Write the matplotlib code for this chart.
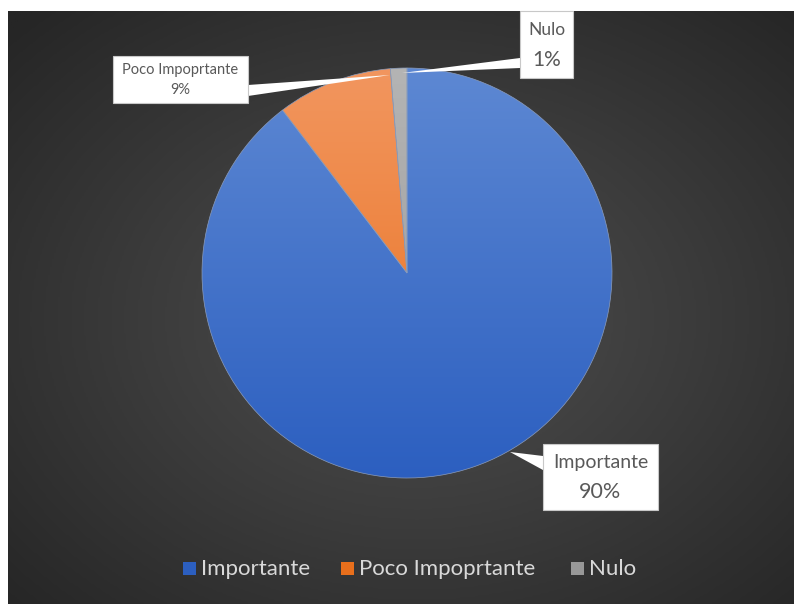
import numpy as np
import matplotlib
matplotlib.use("Agg")
import matplotlib.pyplot as plt
from matplotlib.patches import Rectangle, Polygon
from matplotlib.colors import LinearSegmentedColormap

categories = ["Importante", "Poco Impoprtante", "Nulo"]
values = [69, 7, 1]
pct_labels = ["90%", "9%", "1%"]

FONT = ["Lato", "DejaVu Sans"]
plt.rcParams['font.family'] = FONT

W, H = 794, 604
fig = plt.figure(figsize=(W / 100, H / 100), dpi=100)
fig.patch.set_facecolor("white")

# background with radial gradient
bg = fig.add_axes([8 / W, 0, (W - 8) / W, (H - 11) / H])
bg.set_axis_off()
yy, xx = np.mgrid[0:1:300j, 0:1:400j]
d = np.sqrt(((xx - 0.52) / 0.75) ** 2 + ((yy - 0.52) / 0.75) ** 2)
cmap_bg = LinearSegmentedColormap.from_list("bg", ["#4f4f4f", "#3b3b3b", "#262626"])
bg.imshow(d, cmap=cmap_bg, vmin=0, vmax=0.95, aspect="auto", extent=[0, 1, 0, 1], interpolation="bilinear")
bg.set_xlim(0, 1); bg.set_ylim(0, 1)

# pie
cx, cy, R = 407, 273, 205
ax = fig.add_axes([(cx - R) / W, 1 - (cy + R) / H, 2 * R / W, 2 * R / H])
ax.set_axis_off()
grads = [("#5d88d3", "#2c5fc0"), ("#f2965f", "#e86f1c"), ("#b4b4b4", "#989898")]
wedges, _ = ax.pie(values, startangle=90, counterclock=False, radius=1,
                   colors=[g[1] for g in grads],
                   wedgeprops=dict(edgecolor="#6a7fa6", linewidth=0.6))
ax.set_xlim(-1, 1); ax.set_ylim(-1, 1)
ax.set_aspect("auto")
grad = np.linspace(0, 1, 256).reshape(-1, 1)
for w, (top, bot) in zip(wedges, grads):
    cm = LinearSegmentedColormap.from_list("g", [top, bot])
    im = ax.imshow(grad, cmap=cm, extent=[-1, 1, -1, 1], aspect="auto", zorder=w.get_zorder() + 0.1)
    im.set_clip_path(w)
for w in wedges:
    w.set_zorder(3)
    w.set_facecolor("none")
    w.set_edgecolor("#8a9cbc")
    w.set_linewidth(0.5)

# overlay in pixel coordinates for callouts and legend
ov = fig.add_axes([0, 0, 1, 1])
ov.set_axis_off()
ov.set_xlim(0, W); ov.set_ylim(H, 0)

def callout(box, tip, base, lines, sizes):
    x0, y0, x1, y1 = box
    ov.add_patch(Polygon([tip, base[0], base[1]], closed=True, facecolor="white", edgecolor="none", zorder=5))
    ov.add_patch(Rectangle((x0, y0), x1 - x0, y1 - y0, facecolor="white", edgecolor="#c8c8c8", lw=0.8, zorder=6))
    n = len(lines)
    hh = (y1 - y0)
    for i, (t, s) in enumerate(zip(lines, sizes)):
        ov.text((x0 + x1) / 2, y0 + hh * (i + 0.5) / n + (2 if i == 0 else -1), t, ha="center", va="center",
                fontsize=s, color="#595959", zorder=7, family=FONT)

callout((113, 56, 248, 103), (390, 75), [(248, 85), (248, 96)], [categories[1], pct_labels[1]], [10.5, 10.5])
callout((520, 11, 573, 78), (402, 73), [(520, 58), (520, 68)], [categories[2], pct_labels[2]], [12.5, 15])
callout((543, 444, 658, 510), (510, 452), [(543, 456), (543, 470)], [categories[0], pct_labels[0]], [14, 15.5])

# legend
leg_x = [183, 341, 571]
for x, lab, (top, bot) in zip(leg_x, categories, grads):
    ov.add_patch(Rectangle((x, 562), 13, 13, facecolor=bot, edgecolor="none"))
    ov.text(x + 18, 569, lab, ha="left", va="center", fontsize=16, color="#d9d9d9", family=FONT)

fig.savefig("out.png", dpi=100, facecolor=fig.get_facecolor())
